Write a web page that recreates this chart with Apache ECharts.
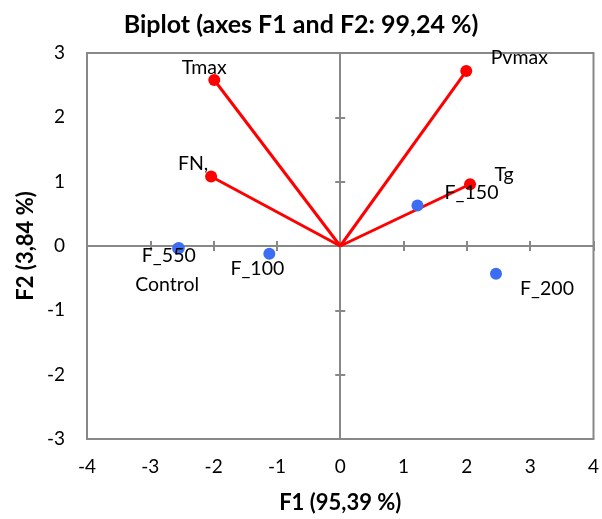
<!DOCTYPE html>
<html><head><meta charset="utf-8">
<script src="https://cdn.jsdelivr.net/npm/echarts@6/dist/echarts.min.js"></script>
<style>html,body{margin:0;padding:0;background:#fff}#c{width:602px;height:519px}</style>
</head><body><div id="c"></div>
<script>
// Variables (red vectors)
const varNames = ['Tmax', 'FN,', 'Pvmax', 'Tg'];
const varF1 = [-1.99, -2.04, 1.99, 2.05];
const varF2 = [2.58, 1.08, 2.72, 0.96];
// Observations (blue points)
const obsNames = ['F_550', 'Control', 'F_100', 'F_150', 'F_200'];
const obsF1 = [-2.55, -2.56, -1.12, 1.22, 2.46];
const obsF2 = [-0.03, -0.04, -0.12, 0.63, -0.43];
// Tick values
const xTicks = [-4, -3, -2, -1, 0, 1, 2, 3, 4];
const yTicks = [-3, -2, -1, 0, 1, 2, 3];

// label offsets (style)
const varLabelOffset = [[-10, -12], [-18, -13], [53, -13], [34, -10]];
const obsLabelOffset = [[-10, 8], [-11, 36], [-12, 15], [54, -13], [51, 15]];

const FONT = 'Lato';
const AX = '#888888';
const RED = '#ff0000';
const BLUE = '#3d6df2';

function mkAxis(kind, idx) {
  const ticks = kind === 'x' ? xTicks : yTicks;
  const base = {
    type: 'value', min: ticks[0], max: ticks[ticks.length - 1], interval: 1,
    position: kind === 'x' ? 'bottom' : 'left',
    splitLine: { show: false }
  };
  if (idx === 0) {
    return Object.assign(base, {
      axisLine: { show: false, onZero: false },
      axisTick: { show: false },
      axisLabel: { fontFamily: FONT, fontSize: 19, color: '#000', margin: kind === 'x' ? 18 : 22 },
      name: kind === 'x' ? 'F1 (95,39 %)' : 'F2 (3,84 %)',
      nameLocation: 'middle',
      nameMoveOverlap: false,
      nameGap: kind === 'x' ? 53 : 50,
      nameTextStyle: { fontFamily: FONT, fontSize: 22, fontWeight: 'bold', color: '#000' }
    });
  }
  return Object.assign(base, {
    axisLine: { show: true, onZero: true, lineStyle: { color: AX, width: 2 } },
    axisTick: { show: true, inside: idx === 2, length: 5, lineStyle: { color: AX, width: 2 } },
    axisLabel: { show: false }
  });
}

const lineSeries = varNames.map((n, i) => ({
  type: 'line', name: n, data: [[0, 0], [varF1[i], varF2[i]]],
  showSymbol: false, symbol: 'none', silent: true,
  lineStyle: { color: RED, width: 3 }, z: 3
}));

const option = {
  animation: false,
  backgroundColor: '#fff',
  title: {
    text: 'Biplot (axes F1 and F2: 99,24 %)',
    left: 'center', top: 7,
    textStyle: { fontFamily: FONT, fontSize: 25, fontWeight: 'bold', color: '#000' }
  },
  grid: { left: 87, top: 53, width: 509, height: 388, show: true, borderColor: AX, borderWidth: 2, backgroundColor: 'transparent' },
  xAxis: [mkAxis('x', 0), mkAxis('x', 1), mkAxis('x', 2)],
  yAxis: [mkAxis('y', 0), mkAxis('y', 1), mkAxis('y', 2)],
  series: lineSeries.concat([
    {
      type: 'scatter', symbolSize: 12, z: 4,
      itemStyle: { color: RED, opacity: 1 },
      data: varNames.map((n, i) => ({
        name: n, value: [varF1[i], varF2[i]],
        label: { show: true, position: 'inside', offset: varLabelOffset[i], formatter: n,
          fontFamily: FONT, fontSize: 19.5, color: '#000' }
      }))
    },
    {
      type: 'scatter', symbolSize: 12, z: 5,
      itemStyle: { color: BLUE, opacity: 1 },
      data: obsNames.map((n, i) => ({
        name: n, value: [obsF1[i], obsF2[i]],
        label: { show: true, position: 'inside', offset: obsLabelOffset[i], formatter: n,
          fontFamily: FONT, fontSize: 19.5, color: '#000' }
      }))
    }
  ])
};
echarts.init(document.getElementById('c')).setOption(option);
</script></body></html>
